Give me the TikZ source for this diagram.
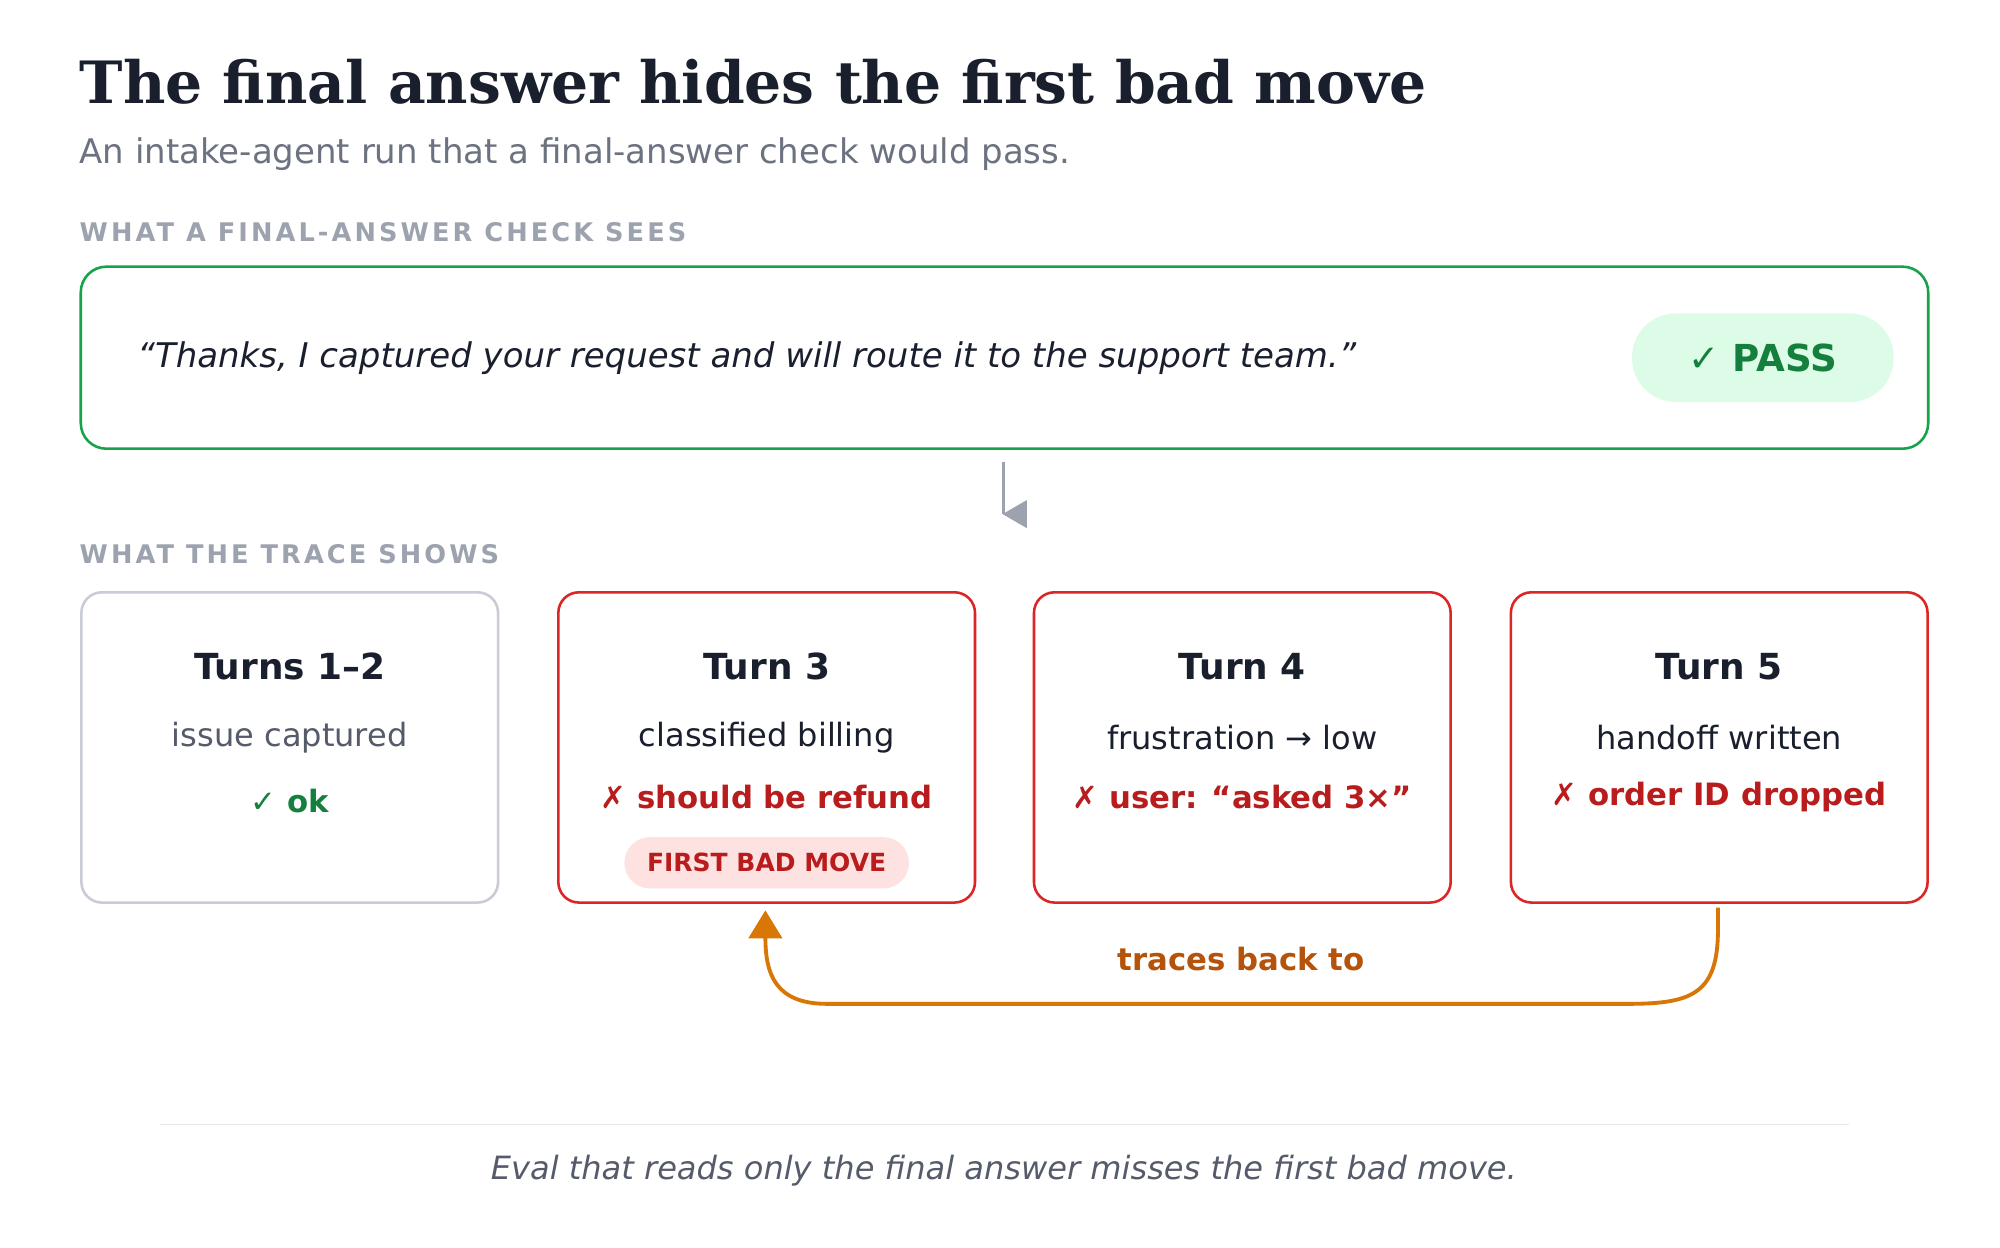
\documentclass[tikz,border=0pt]{standalone}
\usepackage{fontspec}
\setmainfont{DejaVu Sans}
\newfontfamily\titlefont{DejaVu Serif}
\newfontfamily\capsfont[LetterSpace=12]{DejaVu Sans}
\usetikzlibrary{arrows.meta}
\definecolor{ink}{HTML}{1A1F2E}
\definecolor{subgray}{HTML}{6B7280}
\definecolor{capgray}{HTML}{9CA3AF}
\definecolor{okgreen}{HTML}{16A34A}
\definecolor{passtext}{HTML}{15803D}
\definecolor{passbg}{HTML}{DCFCE7}
\definecolor{badred}{HTML}{DC2626}
\definecolor{badtext}{HTML}{B91C1C}
\definecolor{badbg}{HTML}{FEE2E2}
\definecolor{boxgray}{HTML}{C9CBD6}
\definecolor{linkorange}{HTML}{D97706}
\definecolor{linktext}{HTML}{B45309}
\definecolor{rulegray}{HTML}{E5E7EB}
\definecolor{midgray}{HTML}{555B6B}
\tikzset{
  turn/.style={draw=badred,line width=2pt,rounded corners=16pt,minimum width=325pt,minimum height=242pt},
  caption/.style={anchor=west,font=\capsfont\bfseries\fontsize{20}{24}\selectfont,text=capgray},
  head/.style={font=\bfseries\fontsize{28}{32}\selectfont,text=ink},
  line/.style={font=\fontsize{25}{30}\selectfont,text=ink},
  bad/.style={font=\bfseries\fontsize{24}{28}\selectfont,text=badtext}
}
\begin{document}
\begin{tikzpicture}[x=1pt,y=-1pt]
  \useasboundingbox[fill=white] (0,0) rectangle (1560,973);
  \node[anchor=west,font=\titlefont\bfseries\fontsize{45.5}{52}\selectfont,text=ink,inner sep=0pt] (title) at (62,64) {The final answer hides the first bad move};
  \node[anchor=west,font=\fontsize{26.5}{31}\selectfont,text=subgray,inner sep=0pt] (sub) at (62,120) {An intake-agent run that a final-answer check would pass.};
  \node[caption,inner sep=0pt] (cap1) at (62,181) {WHAT A FINAL-ANSWER CHECK SEES};
  \node[draw=okgreen,line width=2pt,rounded corners=20pt,minimum width=1441pt,minimum height=142pt] (final) at (783.5,279) {};
  \node[anchor=west,font=\itshape\fontsize{26.5}{31}\selectfont,text=ink,inner sep=0pt] (quote) at (107,279) {“Thanks, I captured your request and will route it to the support team.”};
  \node[fill=passbg,rounded corners=34pt,minimum width=204pt,minimum height=69pt,font=\bfseries\fontsize{29}{34}\selectfont,text=passtext] (pass) at (1375,279) {✓ PASS};
  % down marker
  \coordinate (m1) at (783,360);
  \coordinate (m2) at (783,401);
  \draw[capgray,line width=2.5pt] (m1) -- (m2);
  \fill[capgray] (782,401) -- (801,390) -- (801,412) -- cycle;
  \node[caption,inner sep=0pt] (cap2) at (62,432) {WHAT THE TRACE SHOWS};
  % turn boxes
  \node[turn,draw=boxgray] (t1) at (226,583) {};
  \node[turn] (t3) at (598,583) {};
  \node[turn] (t4) at (969,583) {};
  \node[turn] (t5) at (1341,583) {};
  \node[head] at (226,520) {Turns 1–2};
  \node[line,text=midgray] at (226,575) {issue captured};
  \node[font=\bfseries\fontsize{24}{28}\selectfont,text=passtext] at (226,625) {✓ ok};
  \node[head] at (598,520) {Turn 3};
  \node[line] at (598,575) {classified billing};
  \node[bad] at (598,622) {✗ should be refund};
  \node[fill=badbg,rounded corners=20pt,minimum width=222pt,minimum height=40pt,font=\bfseries\fontsize{19.5}{22}\selectfont,text=badtext] (first) at (598,673) {FIRST BAD MOVE};
  \node[head] at (969,520) {Turn 4};
  \node[line] at (969,575) {frustration → low};
  \node[bad] at (969,622) {✗ user: “asked 3×”};
  \node[head] at (1341,520) {Turn 5};
  \node[line] at (1341,575) {handoff written};
  \node[bad] at (1341,622) {✗ order ID dropped};
  % trace link
  \coordinate (from) at (1340,708);
  \coordinate (to) at (597,710);
  \draw[linkorange,line width=3pt,-{Triangle[length=22pt,width=26pt]}] (from) -- (1340,725) .. controls (1340,775) and (1320,783) .. (1270,783) -- (645,783) .. controls (605,783) and (597,760) .. (to);
  \node[font=\bfseries\fontsize{24}{28}\selectfont,text=linktext] (link) at (968,748) {traces back to};
  % footer
  \draw[rulegray,line width=1pt] (125,877) -- (1442,877);
  \node[font=\itshape\fontsize{25}{30}\selectfont,text=midgray] (foot) at (783,913) {Eval that reads only the final answer misses the first bad move.};
\end{tikzpicture}
\end{document}
